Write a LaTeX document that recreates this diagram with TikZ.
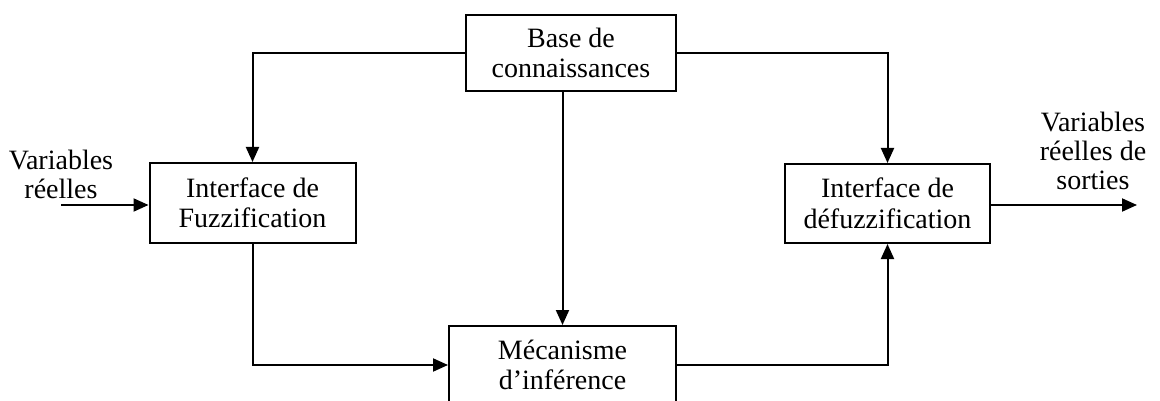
\documentclass[tikz,border=0pt]{standalone}
\usepackage{fontspec}
\setmainfont{Liberation Serif}
\usetikzlibrary{arrows.meta}
\begin{document}
\begin{tikzpicture}[x=1pt,y=-1pt,
  blk/.style={draw,line width=2pt,align=center,inner sep=0pt,font=\fontsize{28}{30.5}\selectfont},
  lbl/.style={align=center,inner sep=0pt,font=\fontsize{28}{29}\selectfont},
  conn/.style={line width=2pt,-{Triangle[length=15pt,width=13pt]}}]
\clip (0,0) rectangle (1160,401);
\useasboundingbox (0,0) rectangle (1160,401);
\node[blk,minimum width=210pt,minimum height=76pt] (kb) at (571,53) {Base de\\connaissances};
\node[blk,minimum width=206pt,minimum height=80pt] (fz) at (252.5,203) {Interface de\\Fuzzification};
\node[blk,minimum width=205pt,minimum height=79pt] (dfz) at (887.5,203.5) {Interface de\\défuzzification};
\node[blk,minimum width=227pt,minimum height=78pt] (inf) at (562.5,365) {Mécanisme\\d’inférence};
\node[lbl] (inlbl) at (61,174) {Variables\\réelles};
\node[lbl] (outlbl) at (1093,151) {Variables\\réelles de\\sorties};
\coordinate (in) at (61,205);
\coordinate (out) at (1137,205);
\draw[conn] (kb.west) -| (fz.north);
\draw[conn] (kb.east) -| (dfz.north);
\draw[conn] (kb.south -| inf.north) -- (inf.north);
\draw[conn] (fz.south) |- (inf.west);
\draw[conn] (inf.east) -| (dfz.south);
\draw[conn] (in) -- (in -| fz.west);
\draw[conn] (out -| dfz.east) -- (out);
\end{tikzpicture}
\end{document}
